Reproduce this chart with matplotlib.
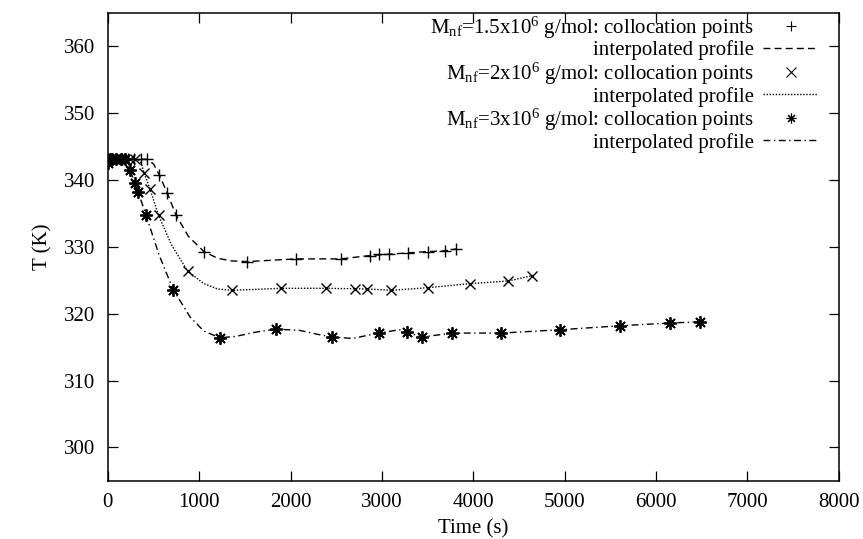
import matplotlib
matplotlib.use("Agg")
from matplotlib import pyplot as plt

plt.rcParams['font.family'] = ['Liberation Serif', 'DejaVu Serif']
plt.rcParams['mathtext.fontset'] = 'custom'
plt.rcParams['mathtext.rm'] = 'Liberation Serif'
plt.rcParams['mathtext.it'] = 'Liberation Serif:italic'

	####  dati  ####
# Mnf = 1.5e6 g/mol : punti di collocazione
t1 = [0, 40, 90, 150, 220, 290, 360, 430, 561, 649, 744, 1050, 1524, 2064,
      2549, 2866, 2968, 3078, 3286, 3505, 3694, 3815]
T1 = [343.1, 343.1, 343.1, 343.1, 343.1, 343.1, 343.1, 343.1, 340.8, 338.1,
      334.8, 329.3, 327.8, 328.2, 328.2, 328.7, 328.9, 328.9, 329.1, 329.3,
      329.4, 329.7]
# profilo interpolato
tp1 = [0, 430, 500, 561, 649, 744, 880, 1050, 1200, 1350, 1524, 1800, 2064,
       2549, 2866, 3078, 3286, 3505, 3694, 3815]
Tp1 = [343.1, 343.1, 342.4, 340.8, 338.1, 334.8, 331.6, 329.3, 328.3, 327.9,
       327.8, 328.0, 328.2, 328.2, 328.7, 328.9, 329.1, 329.3, 329.4, 329.7]

# Mnf = 2e6 g/mol
t2 = [0, 30, 70, 120, 180, 240, 300, 396, 460, 555, 872, 1360, 1900, 2392,
      2702, 2839, 3104, 3508, 3968, 4383, 4645]
T2 = [343.1, 343.1, 343.1, 343.1, 343.1, 343.1, 343.1, 341.1, 338.7, 334.7,
      326.4, 323.5, 323.8, 323.8, 323.7, 323.7, 323.5, 323.9, 324.5, 324.9,
      325.7]
tp2 = [0, 330, 360, 396, 460, 555, 700, 872, 1050, 1200, 1360, 1900, 2392,
       2839, 3104, 3508, 3968, 4383, 4645]
Tp2 = [343.1, 343.1, 342.7, 341.1, 338.7, 334.7, 330.2, 326.4, 324.5, 323.7,
       323.5, 323.8, 323.8, 323.7, 323.5, 323.9, 324.5, 324.9, 325.7]

# Mnf = 3e6 g/mol
t3 = [0, 20, 50, 90, 140, 190, 241, 295, 332, 416, 715, 1225, 1838, 2458,
      2965, 3279, 3438, 3767, 4303, 4953, 5609, 6149, 6484]
T3 = [342.5, 343.1, 343.1, 343.1, 343.1, 343.1, 341.5, 339.6, 338.2, 334.8,
      323.6, 316.4, 317.7, 316.5, 317.1, 317.2, 316.5, 317.1, 317.1, 317.6,
      318.2, 318.6, 318.8]
tp3 = [0, 190, 241, 295, 332, 416, 560, 715, 900, 1050, 1225, 1400, 1600,
       1838, 2100, 2300, 2458, 2680, 2965, 3190, 3279, 3438, 3600, 3767, 4303,
       4953, 5609, 6149, 6484]
Tp3 = [342.5, 343.1, 341.5, 339.6, 338.2, 334.8, 328.8, 323.6, 319.5, 317.4,
       316.4, 316.6, 317.2, 317.7, 317.5, 316.9, 316.5, 316.3, 317.1, 317.6,
       317.2, 316.5, 316.8, 317.1, 317.1, 317.6, 318.2, 318.6, 318.8]

xticks = [0, 1000, 2000, 3000, 4000, 5000, 6000, 7000, 8000]
yticks = [300, 310, 320, 330, 340, 350, 360]

lab1 = r'M$_{\rm nf}$=1.5x10$^{6}$ g/mol: collocation points'
lab2 = r'M$_{\rm nf}$=2x10$^{6}$ g/mol: collocation points'
lab3 = r'M$_{\rm nf}$=3x10$^{6}$ g/mol: collocation points'
	####	####	####	####

fig1 = plt.figure(figsize=(8.63, 5.39), dpi=100)
f1 = fig1.add_subplot(1, 1, 1)

c = 'black'
p1, = f1.plot(t1, T1, ls='none', marker='+', ms=9, mew=1.0, c=c)
l1, = f1.plot(tp1, Tp1, ls=(0, (5, 3)), lw=1.0, c=c)
p2, = f1.plot(t2, T2, ls='none', marker='x', ms=7.5, mew=1.0, c=c)
l2, = f1.plot(tp2, Tp2, ls=(0, (1, 1.2)), lw=1.0, c=c)
p3, = f1.plot(t3, T3, ls='none', marker=(8, 2, 0), ms=9, mew=1.3, c=c)
l3, = f1.plot(tp3, Tp3, ls=(0, (5, 2.5, 1, 2.5)), lw=1.0, c=c)

leg = f1.legend([p1, l1, p2, l2, p3, l3],
                [lab1, 'interpolated profile', lab2, 'interpolated profile',
                 lab3, 'interpolated profile'],
                loc='upper right', bbox_to_anchor=(0.971, 0.997),
                markerfirst=False, frameon=False,
                fontsize=15, handlelength=2.6, handletextpad=0.45,
                labelspacing=0.0, borderpad=0.0, borderaxespad=0.0)
# marker piccoli nella legenda, come gnuplot
for h in leg.legend_handles[0::2]:
    h.set_markersize(7)
    h.set_markeredgewidth(0.8)

f1.set_xlim(0, 8000)
f1.set_ylim(295, 365)
f1.set_xticks(xticks)
f1.set_yticks(yticks)
f1.tick_params(direction='in', length=7, width=0.9, top=True, right=True,
               labelsize=15, pad=9)
for s in f1.spines.values():
    s.set_linewidth(1.1)

f1.set_xlabel('Time (s)', fontsize=15, labelpad=5)
f1.set_ylabel('T (K)', fontsize=15, labelpad=8)

fig1.subplots_adjust(left=0.125, right=0.972, top=0.976, bottom=0.108)
fig1.savefig('out.png', dpi=100)
